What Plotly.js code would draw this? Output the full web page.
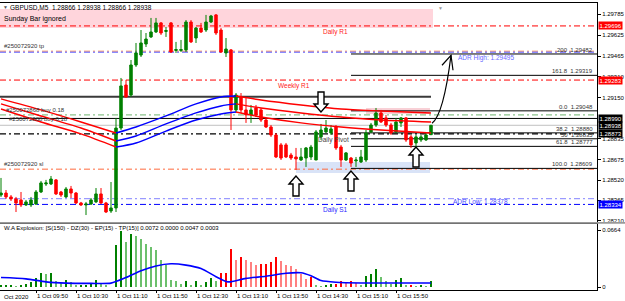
<!DOCTYPE html>
<html><head><meta charset="utf-8">
<script src="https://cdn.plot.ly/plotly-3.0.1.min.js"></script>
<style>html,body{margin:0;padding:0;background:#fff;}#chart{width:625px;height:301px;}</style>
</head><body><div id="chart"></div>
<script>
// ---------- DATA ----------
const times = ["09:15","09:20","09:25","09:30","09:35","09:40","09:45","09:50","09:55",
"10:00","10:05","10:10","10:15","10:20","10:25","10:30","10:35","10:40","10:45","10:50","10:55",
"11:00","11:05","11:10","11:15","11:20","11:25","11:30","11:35","11:40","11:45","11:50","11:55",
"12:00","12:05","12:10","12:15","12:20","12:25","12:30","12:35","12:40","12:45","12:50","12:55",
"13:00","13:05","13:10","13:15","13:20","13:25","13:30","13:35","13:40","13:45","13:50","13:55",
"14:00","14:05","14:10","14:15","14:20","14:25","14:30","14:35","14:40","14:45","14:50","14:55",
"15:00","15:05","15:10","15:15","15:20","15:25","15:30","15:35","15:40","15:45","15:50","15:55",
"16:00","16:05","16:10","16:15","16:20","16:25"];
const open = [1.28406,1.28421,1.28391,1.28376,1.28368,1.28330,1.28330,1.28337,1.28429,1.28490,
1.28490,1.28521,1.28429,1.28391,1.28452,1.28421,1.28345,1.28330,1.28337,1.28353,
1.28414,1.28345,1.28284,1.28307,1.28917,1.29245,1.29169,1.29398,1.29474,1.29558,
1.29612,1.29650,1.29719,1.29654,1.29719,1.29509,1.29509,1.29513,1.29726,1.29604,
1.29680,1.29665,1.29726,1.29780,1.29665,1.29490,1.29513,1.29055,1.29154,1.29055,
1.29017,1.29070,1.29055,1.28978,1.28925,1.28864,1.28788,1.28788,1.28711,1.28696,
1.28673,1.28688,1.28696,1.28673,1.28849,1.28887,1.28879,1.28925,1.28772,1.28673,
1.28688,1.28666,1.28658,1.28673,1.28887,1.28940,1.29032,1.28994,1.28940,1.28887,
1.28956,1.28994,1.28849,1.28803,1.28826,1.28826,1.28866];
const high = [1.28536,1.28444,1.28406,1.28391,1.28429,1.28368,1.28391,1.28444,1.28513,1.28521,
1.28551,1.28528,1.28437,1.28467,1.28475,1.28429,1.28353,1.28353,1.28383,1.28459,
1.28459,1.28353,1.28505,1.28994,1.29299,1.29284,1.29436,1.29566,1.29665,1.29642,
1.29757,1.29757,1.29726,1.29688,1.29726,1.29574,1.29589,1.29741,1.29741,1.29688,
1.29719,1.29780,1.29780,1.29787,1.29680,1.29604,1.29520,1.29184,1.29184,1.29154,
1.29093,1.29093,1.29070,1.28994,1.28940,1.28879,1.28803,1.28803,1.28727,1.28765,
1.28765,1.28772,1.28788,1.28902,1.28948,1.28978,1.28940,1.28940,1.28788,1.28734,
1.28696,1.28696,1.28750,1.28902,1.28956,1.29070,1.29055,1.29017,1.28956,1.28994,
1.29001,1.29001,1.28864,1.28864,1.28864,1.28879,1.28938];
const low = [1.28391,1.28376,1.28360,1.28276,1.28314,1.28322,1.28314,1.28330,1.28421,1.28475,
1.28482,1.28406,1.28391,1.28383,1.28383,1.28337,1.28322,1.28253,1.28330,1.28345,
1.28337,1.28269,1.28269,1.28276,1.28902,1.29146,1.29154,1.29383,1.29459,1.29535,
1.29604,1.29642,1.29627,1.29612,1.29490,1.29490,1.29497,1.29497,1.29566,1.29566,
1.29642,1.29650,1.29719,1.29627,1.29490,1.29459,1.28902,1.29032,1.29032,1.28956,
1.28956,1.29001,1.28963,1.28917,1.28849,1.28688,1.28673,1.28688,1.28673,1.28597,
1.28666,1.28620,1.28673,1.28673,1.28826,1.28879,1.28864,1.28750,1.28620,1.28666,
1.28620,1.28620,1.28650,1.28658,1.28879,1.28925,1.28956,1.28925,1.28864,1.28879,
1.28925,1.28811,1.28765,1.28772,1.28811,1.28818,1.28866];
const close = [1.28421,1.28391,1.28376,1.28345,1.28330,1.28353,1.28368,1.28429,1.28498,1.28498,
1.28528,1.28414,1.28406,1.28452,1.28421,1.28345,1.28330,1.28337,1.28368,1.28414,
1.28345,1.28276,1.28307,1.28917,1.29238,1.29154,1.29398,1.29490,1.29566,1.29596,
1.29650,1.29719,1.29642,1.29661,1.29497,1.29516,1.29516,1.29726,1.29574,1.29680,
1.29650,1.29726,1.29772,1.29642,1.29497,1.29520,1.29055,1.29169,1.29055,1.29017,
1.29055,1.29017,1.28978,1.28925,1.28864,1.28696,1.28688,1.28696,1.28688,1.28681,
1.28696,1.28765,1.28772,1.28887,1.28902,1.28917,1.28910,1.28765,1.28673,1.28727,
1.28650,1.28673,1.28696,1.28879,1.28940,1.29032,1.28963,1.28940,1.28879,1.28963,
1.28994,1.28826,1.28788,1.28849,1.28849,1.28864,1.28938];

// three moving averages, sampled at candle indices
const maIdx = [0,8,16,23,27,33,39,44,47,52,60,68,76,86];
const maTop = [1.29139,1.29055,1.28963,1.28879,1.28925,1.29009,1.29101,1.29154,1.29161,1.29131,1.29093,1.29062,1.29047,1.29032];
const maMid = [1.29101,1.29009,1.28917,1.28818,1.28856,1.28948,1.29032,1.29085,1.29101,1.29070,1.29032,1.29001,1.28978,1.28963];
const maBot = [1.29062,1.28963,1.28872,1.28772,1.28803,1.28894,1.28978,1.29024,1.29039,1.29001,1.28956,1.28925,1.28902,1.28879];

// W.A. Explosion histogram (+1 up trend / -1 down trend)
const waeVal = [0.0019,0.0019,0.0019,0.0011,0.0019,0.0030,0.0056,0.0104,0.0160,0.0149,
0.0160,0.0075,0.0045,0.0086,0.0056,0.0019,0.0019,0.0019,0.0045,0.0086,
0.0034,0.0019,0.0005,0.0485,0.0653,0.0522,0.0615,0.0597,0.0560,0.0504,
0.0466,0.0429,0.0310,0.0261,0.0082,0.0075,0.0037,0.0075,0.0019,0.0067,
0.0019,0.0056,0.0108,0.0075,0.0160,0.0160,0.0440,0.0320,0.0350,0.0320,
0.0290,0.0260,0.0270,0.0270,0.0290,0.0345,0.0305,0.0255,0.0240,0.0205,
0.0155,0.0090,0.0120,0.0019,0.0007,0.0019,0.0037,0.0037,0.0075,0.0063,
0.0075,0.0048,0.0019,0.0131,0.0149,0.0205,0.0112,0.0075,0.0037,0.0086,
0.0101,0.0019,0.0019,0.0007,0.0019,0.0007,0.0072];
const waeDir = [1,1,1,1,1,1,1,1,1,1, 1,1,1,1,1,1,1,1,1,1, 1,1,1,1,1,1,1,1,1,1,
1,1,1,1,1,1,1,1,1,1, 1,1,1,1,-1,-1,-1,-1,-1,-1, -1,-1,-1,-1,-1,-1,-1,-1,-1,-1,
-1,-1,-1,1,1,1,1,-1,-1,-1, -1,-1,1,1,1,1,1,1,1,1, 1,1,-1,1,1,1,1];
const expIdx = [0,5,9,13,18,22,25,28,31,34,37,40,43,45,46,49,53,57,60,62,64,67,72,80,86];
const expVal = [0.0110,0.0095,0.0060,0.0045,0.0042,0.0045,0.0110,0.0190,0.0245,0.0270,0.0255,0.0215,0.0120,0.0065,0.0060,0.0100,0.0125,0.0160,0.0165,0.0130,0.0075,0.0055,0.0047,0.0047,0.0047];

// horizontal levels
const dailyR1 = 1.29696, adrHigh = 1.29495, tpLevel = 1.29503, weeklyR1 = 1.29283;
const resistLine = 1.29156, buyLevel = 1.29017, blackLevel = 1.28990, bidLevel = 1.28938;
const dailyPivot = 1.28873, slLevel = 1.28603, adrLow = 1.28378, dailyS1 = 1.28334;
const fibRatios = ["200","161.8","0.0","38.2","50","61.8","100.0"];
const fibPrices = [1.29482,1.29319,1.29048,1.28880,1.28835,1.28777,1.28609];
const fibStart = "15:05";
const sundayZone = [1.29680,1.29825];
const pinkZone = [1.29024,1.29070], pinkStart = "15:20";
const blueZone = [1.28574,1.28658], blueStart = "14:10";
const yTickText = ["1.29785","1.29625","1.29465","1.29310","1.29150","1.28835","1.28675","1.28520","1.28365","1.28210"];
const xTickTimes = ["09:50","10:30","11:10","11:50","12:30","13:10","13:50","14:30","15:10","15:50"];
const xTickText = xTickTimes.map(t => "1 Oct " + t);
const arrowsUp = [59,70,83], arrowUpGap = [6,4,0];
const arrowsDown = [64], arrowDownGap = [12];

// ---------- BUILD ----------
const FONT = "Liberation Sans, Arial, sans-serif";
const toMin = s => { const p = s.split(':').map(Number); return p[0]*60 + p[1]; };
const tx = times.map(toMin);
const xRange = [tx[0]-1, tx[0]-1+597];
const lastT = tx[tx.length-1];

const traces = [];
traces.push({type:'candlestick', x:tx, open:open, high:high, low:low, close:close,
  xaxis:'x', yaxis:'y', whiskerwidth:0, hoverinfo:'skip', showlegend:false,
  increasing:{line:{color:'#008000',width:1}, fillcolor:'#008000'},
  decreasing:{line:{color:'#ff0000',width:1}, fillcolor:'#ff0000'}});

function maTraces(vals){
  let start = 0;
  for (let k = 1; k < vals.length; k++) {
    const dir = Math.sign(vals[k]-vals[k-1]);
    const nextDir = k+1 < vals.length ? Math.sign(vals[k+1]-vals[k]) : null;
    if (nextDir === null || nextDir !== dir) {
      const xs = [], ys = [];
      for (let j = start; j <= k; j++) { xs.push(tx[maIdx[j]]); ys.push(vals[j]); }
      traces.push({type:'scatter', mode:'lines', x:xs, y:ys, xaxis:'x', yaxis:'y',
        line:{color: dir > 0 ? '#0000ff' : '#ff0000', width:1.4, shape:'spline', smoothing:0.8},
        hoverinfo:'skip', showlegend:false});
      start = k;
    }
  }
}
[maTop, maMid, maBot].forEach(maTraces);

const waeColors = waeVal.map((v,i) => {
  const rising = i === 0 || v >= waeVal[i-1];
  if (waeDir[i] > 0) return rising ? '#008000' : '#6cc06c';
  return rising ? '#ff0000' : '#ff8080';
});
traces.push({type:'bar', x:tx, y:waeVal, width:2.4, xaxis:'x2', yaxis:'y2',
  marker:{color:waeColors, line:{width:0}}, hoverinfo:'skip', showlegend:false});
traces.push({type:'scatter', mode:'lines', x:expIdx.map(i=>tx[i]), y:expVal, xaxis:'x2', yaxis:'y2',
  line:{color:'#0000ff', width:1.6, shape:'spline', smoothing:0.7}, hoverinfo:'skip', showlegend:false});

const DD = "6px,3px,2px,3px";
const shapes = [];
function hline(price, color, width, dash, x0, x1){
  shapes.push({type:'line', xref:'x', yref:'y', x0:x0===undefined?xRange[0]:x0, x1:x1===undefined?xRange[1]:x1,
    y0:price, y1:price, layer:'below', line:{color:color, width:width, dash:dash||'solid'}});
}
shapes.push({type:'rect', xref:'x', yref:'y', x0:xRange[0], x1:lastT+2, y0:sundayZone[0], y1:sundayZone[1],
  fillcolor:'#ffd5dc', line:{width:0}, layer:'below'});
shapes.push({type:'rect', xref:'x', yref:'y', x0:toMin(pinkStart), x1:lastT-1, y0:pinkZone[0], y1:pinkZone[1],
  fillcolor:'#f8d0d6', line:{width:0}, layer:'below'});
shapes.push({type:'rect', xref:'x', yref:'y', x0:toMin(blueStart), x1:lastT-1, y0:blueZone[0], y1:blueZone[1],
  fillcolor:'#d9e3f7', line:{width:0}, layer:'below'});
hline(dailyR1, '#ff0000', 1, DD);
hline(tpLevel, '#ff7a33', 1, DD);
hline(adrHigh, '#8a8aff', 1.4, DD);
hline(weeklyR1, '#ff0000', 1, DD);
hline(resistLine, '#3a3a3a', 2, 'solid', xRange[0], lastT);
hline(buyLevel, '#6fb46f', 1, DD);
hline(blackLevel, '#000000', 1);
hline(bidLevel, '#c0c0c0', 1);
hline(dailyPivot, '#000000', 1.3, DD);
hline(slLevel, '#ff6a3d', 1, DD);
hline(adrLow, '#9a9aff', 1.4, DD);
hline(dailyS1, '#0000ff', 1, DD);
fibPrices.forEach(p => hline(p, '#000000', 1, 'solid', toMin(fibStart), xRange[1]));
// panel separator
shapes.push({type:'rect', xref:'paper', yref:'paper', x0:0, x1:1.047, y0:0.2305, y1:0.237, fillcolor:'#9a9a9a', line:{width:0}});

const upPath = g => `M0,${-g} L-7,${-g-8} L-3,${-g-8} L-3,${-g-20} L3,${-g-20} L3,${-g-8} L7,${-g-8} Z`;
const downPath = g => `M0,${g} L-7,${g+8} L-3,${g+8} L-3,${g+20} L3,${g+20} L3,${g+8} L7,${g+8} Z`;
arrowsUp.forEach((i,k) => shapes.push({type:'path', xref:'x', yref:'y', xsizemode:'pixel', ysizemode:'pixel',
  xanchor:tx[i], yanchor:low[i], path:upPath(arrowUpGap[k]), fillcolor:'#ffffff', line:{color:'#000', width:1.4}}));
arrowsDown.forEach((i,k) => shapes.push({type:'path', xref:'x', yref:'y', xsizemode:'pixel', ysizemode:'pixel',
  xanchor:tx[i], yanchor:high[i], path:downPath(arrowDownGap[k]), fillcolor:'#ffffff', line:{color:'#000', width:1.4}}));
// hand drawn curved arrow towards ADR high
shapes.push({type:'path', xref:'x', yref:'y', xsizemode:'pixel', ysizemode:'pixel', xanchor:lastT, yanchor:close[close.length-1],
  path:'M1,2 C9,8 15,30 20,70', line:{color:'#000', width:1.2}});
shapes.push({type:'path', xref:'x', yref:'y', xsizemode:'pixel', ysizemode:'pixel', xanchor:lastT, yanchor:close[close.length-1],
  path:'M11,60 L20,70 L22,55', line:{color:'#000', width:1.2}});

const ann = [];
function txt(text, x, xref, y, yref, opts){
  ann.push(Object.assign({text:text, x:x, xref:xref, y:y, yref:yref, showarrow:false, xanchor:'left', yanchor:'middle',
    font:{family:FONT, size:6.5, color:'#000'}}, opts||{}));
}
txt('GBPUSD,M5  ' + [open, high, low, close].map(a=>a[a.length-1].toFixed(5)).join(' '), 0.014, 'paper', 0.985, 'paper', {font:{family:FONT,size:6.5,color:'#000'}});
txt('▼', 0.002, 'paper', 0.987, 'paper', {font:{family:FONT,size:5,color:'#555'}});
txt('▼', toMin("16:30"), 'x', 1.0, 'paper', {font:{family:FONT,size:5,color:'#999'}, yanchor:'top'});
txt('Sunday Bar ignored', 0.004, 'paper', 1.29752, 'y', {font:{family:FONT,size:7,color:'#000'}});
txt('#250072920 tp', 0.003, 'paper', tpLevel, 'y', {yanchor:'bottom', font:{family:FONT,size:6,color:'#333'}});
txt('#250072868 buy 0.18', 0.007, 'paper', buyLevel, 'y', {yanchor:'bottom', font:{family:FONT,size:6,color:'#333'}});
txt('#250072888 buy 0.18', 0.012, 'paper', buyLevel, 'y', {yanchor:'top', yshift:1, font:{family:FONT,size:6,color:'#333'}});
txt('#250072920 sl', 0.003, 'paper', slLevel, 'y', {yanchor:'bottom', font:{family:FONT,size:6,color:'#333'}});
txt('Daily R1', toMin("14:35"), 'x', dailyR1, 'y', {yanchor:'top', font:{family:FONT,size:6.5,color:'#ff2020'}});
txt('Weekly R1', toMin("13:50"), 'x', weeklyR1, 'y', {yanchor:'top', font:{family:FONT,size:6.5,color:'#ff2020'}});
txt('Daily Pivot', toMin("14:30"), 'x', dailyPivot, 'y', {yanchor:'top', font:{family:FONT,size:6.5,color:'#444'}});
txt('Daily S1', toMin("14:35"), 'x', dailyS1, 'y', {yanchor:'top', font:{family:FONT,size:6.5,color:'#2a2aff'}});
txt('ADR High: ' + adrHigh.toFixed(5), toMin("16:50"), 'x', adrHigh, 'y', {yanchor:'top', font:{family:FONT,size:6.5,color:'#6a6aff'}});
txt('ADR Low: ' + adrLow.toFixed(5), toMin("16:45"), 'x', adrLow, 'y', {yanchor:'top', yshift:3, font:{family:FONT,size:6.5,color:'#4a4aff'}});
fibRatios.forEach((r,k) => txt(r + '  ' + fibPrices[k].toFixed(5), 1, 'paper', fibPrices[k], 'y',
  {xanchor:'right', xshift:-2, yanchor:'bottom', yshift:-1, font:{family:FONT,size:6,color:'#333'}}));
function box(price, bg){
  txt(price.toFixed(5), 1, 'paper', price, 'y', {xshift:1, bgcolor:bg, borderpad:0.5, font:{family:FONT,size:6,color:'#fff'}});
}
box(dailyR1,'#ff0000'); box(weeklyR1,'#ff0000'); box(blackLevel,'#000000'); box(bidLevel,'#000000');
box(dailyPivot,'#000000'); box(dailyS1,'#0000ff');
txt('W.A Explosion: [S(150) - DZ(30) - EP(15) - TP(15)] ' + [waeVal[waeVal.length-1], 0, expVal[expVal.length-1], 0.0003].map(v=>v.toFixed(4)).join(' '),
  0.003, 'paper', 0.215, 'paper', {font:{family:FONT,size:6,color:'#000'}});
txt('Oct 2020', 0.003, 'paper', 0, 'paper', {yanchor:'top', yshift:-2, font:{family:FONT,size:6,color:'#000'}});

const axBase = {showgrid:false, zeroline:false, showline:true, mirror:true, linecolor:'#000', linewidth:1, fixedrange:true};
const layout = {
  width:625, height:301, margin:{l:0, r:28, t:3, b:11, pad:0},
  paper_bgcolor:'#ffffff', plot_bgcolor:'#ffffff', showlegend:false,
  font:{family:FONT, size:6, color:'#000'},
  xaxis:Object.assign({}, axBase, {domain:[0,1], range:xRange, anchor:'y', showticklabels:false, ticks:'', rangeslider:{visible:false}}),
  yaxis:Object.assign({}, axBase, {domain:[0.237,1], range:[1.28200,1.29871], side:'right', anchor:'x',
    tickvals:yTickText.map(Number), ticktext:yTickText, ticks:'outside', ticklen:3, tickcolor:'#000', tickfont:{family:FONT,size:6,color:'#000'}}),
  xaxis2:Object.assign({}, axBase, {domain:[0,1], range:xRange, anchor:'y2', tickvals:xTickTimes.map(toMin), ticktext:xTickText,
    ticks:'outside', ticklen:2, tickcolor:'#000', tickangle:0, ticklabelposition:'outside right', ticklabelstandoff:0,
    tickfont:{family:FONT,size:6,color:'#000'}}),
  yaxis2:Object.assign({}, axBase, {domain:[0,0.23], range:[-0.0035,0.0734], side:'right', anchor:'x2',
    tickvals:[0,0.0664], ticktext:['0','0.0664'], ticks:'outside', ticklen:3, tickcolor:'#000', tickfont:{family:FONT,size:6,color:'#000'}}),
  shapes:shapes, annotations:ann, bargap:0
};
Plotly.newPlot('chart', traces, layout, {staticPlot:true, displayModeBar:false});
</script></body></html>
